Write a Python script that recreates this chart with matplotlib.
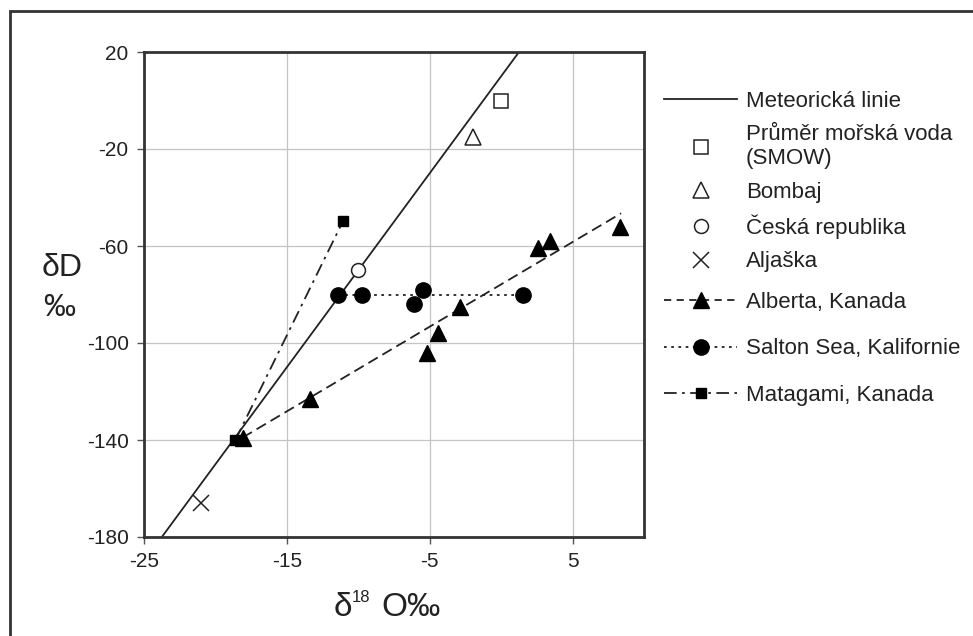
import matplotlib
matplotlib.use("Agg")
import matplotlib.pyplot as plt
from matplotlib.patches import Rectangle

plt.rcParams['font.family'] = ['Liberation Sans', 'DejaVu Sans']
plt.rcParams['axes.unicode_minus'] = False

# meteoric water line (end points)
meteoric_x = [-23.75, 1.25]
meteoric_y = [-180, 20]

# single points
smow_x, smow_y = [0], [0]
bombay_x, bombay_y = [-2], [-15]
czech_x, czech_y = [-10], [-70]
alaska_x, alaska_y = [-21], [-166]

# Alberta, Kanada
alberta_x = [-18.1, -13.4, -5.2, -4.4, -2.9, 2.6, 3.45, 8.3]
alberta_y = [-139, -123, -104, -96, -85, -61, -58, -52]
alberta_line_x = [-18.1, 8.4]
alberta_line_y = [-139, -46.5]

# Salton Sea, Kalifornie
salton_x = [-11.45, -9.75, -6.1, -5.5, 1.5]
salton_y = [-80, -80, -84, -78, -80]
salton_line_x = [-11.45, 1.5]
salton_line_y = [-80, -80]

# Matagami, Kanada
matagami_x = [-18.6, -11.05]
matagami_y = [-140, -49.5]

x_ticks = [-25, -15, -5, 5]
y_ticks = [20, -20, -60, -100, -140, -180]

fig = plt.figure(figsize=(9.73, 6.36), dpi=100)
ax = fig.add_axes([144 / 973, 1 - 537 / 636, 500 / 973, 485 / 636])

dark = '#222222'
dashdot = (0, (7, 3, 1.5, 3))

ax.plot(meteoric_x, meteoric_y, color=dark, lw=1.3, label='Meteorická linie')
ax.plot(smow_x, smow_y, ls='none', marker='s', ms=10, mfc='white', mec=dark, mew=1.1,
        label='Průměr mořská voda\n(SMOW)')
ax.plot(bombay_x, bombay_y, ls='none', marker='^', ms=11, mfc='white', mec=dark, mew=1.1,
        label='Bombaj')
ax.plot(czech_x, czech_y, ls='none', marker='o', ms=10, mfc='white', mec=dark, mew=1.1,
        label='Česká republika')
ax.plot(alaska_x, alaska_y, ls='none', marker='x', ms=12, color=dark, mew=1.1,
        label='Aljaška')

ax.plot(alberta_line_x, alberta_line_y, color=dark, lw=1.3, ls=(0, (6, 3)))
ax.plot(alberta_x, alberta_y, ls='none', marker='^', ms=11, color='black')
ax.plot(salton_line_x, salton_line_y, color=dark, lw=1.3, ls=(0, (1.5, 2.5)))
ax.plot(salton_x, salton_y, ls='none', marker='o', ms=11, color='black')
ax.plot(matagami_x, matagami_y, color=dark, lw=1.3, ls=dashdot,
        marker='s', ms=7, mfc='black', mec='black')

# legend handles for the line series
h_alb, = ax.plot([], [], color=dark, lw=1.3, ls=(0, (4, 3)), marker='^', ms=11, mfc='black',
                 mec='black', label='Alberta, Kanada')
h_sal, = ax.plot([], [], color=dark, lw=1.3, ls=(0, (1.5, 2.5)), marker='o', ms=11,
                 mfc='black', mec='black', label='Salton Sea, Kalifornie')
h_mat, = ax.plot([], [], color=dark, lw=1.3, ls=dashdot, marker='s', ms=7, mfc='black',
                 mec='black', label='Matagami, Kanada')

ax.set_xlim(-25, 10)
ax.set_ylim(-180, 20)
ax.set_xticks(x_ticks)
ax.set_yticks(y_ticks)
ax.grid(True, color='#c4c4c4', lw=0.9)
ax.set_axisbelow(True)
for s in ax.spines.values():
    s.set_linewidth(2)
    s.set_color('#333333')
ax.tick_params(direction='out', length=5, width=1, color='#555555', labelsize=15,
               labelcolor='#222222', pad=6)

handles, labels = ax.get_legend_handles_labels()
leg_opts = dict(loc='upper left', frameon=False, fontsize=16, handlelength=3.3,
                handletextpad=0.4, borderaxespad=0, labelcolor='#222222')
fig.legend(handles[:5], labels[:5], bbox_to_anchor=(655 / 973, 1 - 82 / 636),
           labelspacing=0.55, **leg_opts)
fig.legend(handles[5:], labels[5:], bbox_to_anchor=(655 / 973, 1 - 283 / 636),
           labelspacing=1.15, **leg_opts)

fig.text(62 / 973, 1 - 268 / 636, 'δD', fontsize=23, ha='center', va='center', color='#222222')
fig.text(59 / 973, 1 - 308 / 636, '‰', fontsize=23, ha='center', va='center', color='#222222')
fig.text(343 / 973, 1 - 607 / 636, 'δ', fontsize=24, ha='center', va='center', color='#222222')
fig.text(361 / 973, 1 - 598 / 636, '18', fontsize=12, ha='center', va='center', color='#222222')
fig.text(411 / 973, 1 - 607 / 636, 'O‰', fontsize=24, ha='center', va='center', color='#222222')

# outer frame, cut off at right and bottom edge
fig.patches.append(Rectangle((9.5 / 973, -0.05), 1.1, 1.05 - 11 / 636, transform=fig.transFigure,
                             fill=False, lw=2, edgecolor='#333333'))

fig.savefig('out.png', dpi=100)
